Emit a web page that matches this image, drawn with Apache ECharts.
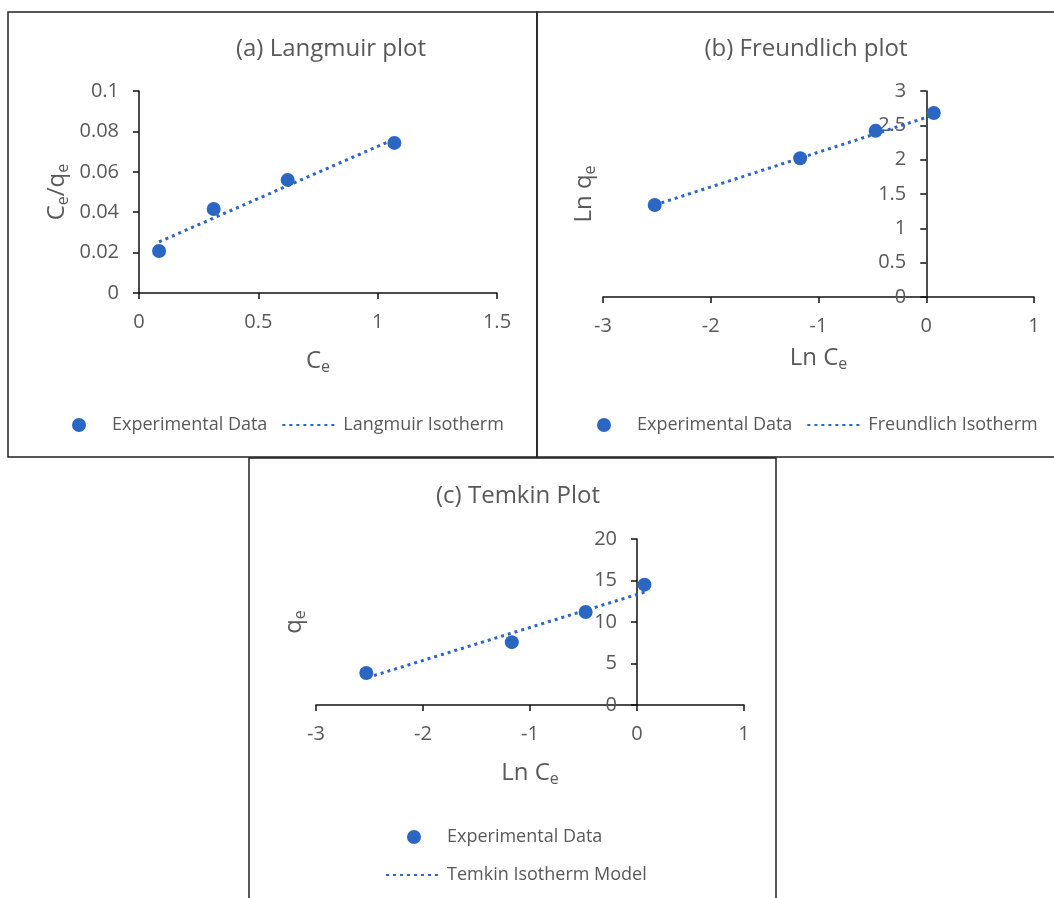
<!DOCTYPE html>
<html>
<head>
<meta charset="utf-8">
<script src="https://cdn.jsdelivr.net/npm/echarts@6/dist/echarts.min.js"></script>
<style>
  html, body { margin: 0; padding: 0; background: #fff; }
  #main { width: 1054px; height: 898px; }
</style>
</head>
<body>
<div id="main"></div>
<script>
// (a) Langmuir: Ce vs Ce/qe
var langmuirData = [[0.084, 0.0208], [0.313, 0.0416], [0.623, 0.056], [1.07, 0.0743]];
var langmuirFit = [[0.084, 0.0253], [1.07, 0.0762]];

// (b) Freundlich: Ln Ce vs Ln qe
var freundlichData = [[-2.52, 1.34], [-1.17, 2.02], [-0.47, 2.42], [0.07, 2.68]];
var freundlichFit = [[-2.52, 1.34], [0.07, 2.65]];

// (c) Temkin: Ln Ce vs qe
var temkinData = [[-2.53, 3.85], [-1.17, 7.57], [-0.48, 11.2], [0.07, 14.5]];
var temkinFit = [[-2.52, 3.3], [0.07, 13.6]];

var blue = '#2A66C2';
var grey = '#595959';
var font = 'Open Sans';

var grids = [
    { left: 139, top: 91, width: 358, height: 202 },
    { left: 603, top: 91, width: 431, height: 206 },
    { left: 316, top: 539, width: 428, height: 166 }
];

var chart = echarts.init(document.getElementById('main'));

// subscript "e" in axis names
var rich = {
    m: { fontSize: 24, color: grey, fontFamily: font, lineHeight: 28 },
    s: { fontSize: 16, color: grey, fontFamily: font, lineHeight: 16, verticalAlign: 'bottom' }
};

function xAx(idx, min, max, interval, name, gap) {
    return {
        type: 'value', gridIndex: idx, min: min, max: max, interval: interval,
        name: name, nameLocation: 'middle', nameGap: gap,
        nameTextStyle: { fontSize: 24, fontFamily: font, color: grey, rich: rich },
        splitLine: { show: false },
        axisLine: { onZero: false, lineStyle: { color: '#111', width: 1.5 } },
        axisTick: { show: true, length: 6, lineStyle: { color: '#111', width: 1.5 } },
        axisLabel: { color: grey, fontSize: 20, fontFamily: font, margin: 19 }
    };
}
// y axis crossing the x axis at x = 0 (xMin < 0): shift it inside the grid
function yAx(idx, min, max, interval, name, gap, xMin, xMax) {
    var off = 0;
    if (xMin < 0) off = -grids[idx].width * (0 - xMin) / (xMax - xMin);
    return {
        type: 'value', gridIndex: idx, min: min, max: max, interval: interval,
        name: name, nameLocation: 'middle', nameGap: gap, nameRotate: 90,
        nameTextStyle: { fontSize: 24, fontFamily: font, color: grey, rich: rich },
        offset: off,
        splitLine: { show: false },
        axisLine: { onZero: false, lineStyle: { color: '#111', width: 1.5 } },
        axisTick: { show: true, length: 6, lineStyle: { color: '#111', width: 1.5 } },
        axisLabel: { color: grey, fontSize: 20, fontFamily: font, margin: 20 }
    };
}

function legendOf(data, left, top, orient) {
    return {
        data: [data[0], { name: data[1], itemStyle: { opacity: 0 } }],
        left: left, top: top, width: 470, padding: 0,
        orient: orient || 'horizontal',
        itemWidth: 56, itemHeight: 14, itemGap: orient === 'vertical' ? 20 : 14,
        selectedMode: false,
        textStyle: { color: grey, fontSize: 18, fontFamily: font }
    };
}

var titleStyle = { color: grey, fontSize: 24, fontFamily: font, fontWeight: 'normal' };

var option = {
    animation: false,
    title: [
        { text: '(a) Langmuir plot', left: 326, top: 32, textAlign: 'center', textStyle: titleStyle },
        { text: '(b) Freundlich plot', left: 801, top: 32, textAlign: 'center', textStyle: titleStyle },
        { text: '(c) Temkin Plot', left: 513, top: 479, textAlign: 'center', textStyle: titleStyle }
    ],
    graphic: [
        { type: 'rect', shape: { x: 8, y: 12, width: 529, height: 445 }, style: { fill: 'none', stroke: '#222', lineWidth: 1.5 } },
        { type: 'rect', shape: { x: 537, y: 12, width: 530, height: 445 }, style: { fill: 'none', stroke: '#222', lineWidth: 1.5 } },
        { type: 'rect', shape: { x: 249, y: 458, width: 527, height: 460 }, style: { fill: 'none', stroke: '#222', lineWidth: 1.5 } }
    ],
    grid: grids,
    xAxis: [
        xAx(0, 0, 1.5, 0.5, '{m|C}{s|e}', 54),
        xAx(1, -3, 1, 1, '{m|Ln C}{s|e}', 47),
        xAx(2, -3, 1, 1, '{m|Ln C}{s|e}', 54)
    ],
    yAxis: [
        yAx(0, 0, 0.1, 0.02, '{m|C}{s|e}{m|/q}{s|e}', 68, 0, 1.5),
        yAx(1, 0, 3, 0.5, '{m|Ln q}{s|e}', 328, -3, 1),
        yAx(2, 0, 20, 5, '{m|q}{s|e}', 329, -3, 1)
    ],
    legend: [
        legendOf(['Experimental Data', 'Langmuir Isotherm'], 72, 416),
        legendOf(['Experimental Data', 'Freundlich Isotherm'], 597, 416),
        legendOf(['Experimental Data', 'Temkin Isotherm Model'], 385, 828, 'vertical')
    ],
    series: [
        { name: 'Experimental Data', type: 'scatter', xAxisIndex: 0, yAxisIndex: 0, data: langmuirData, symbolSize: 14, itemStyle: { color: blue, opacity: 1 }, z: 3 },
        { name: 'Langmuir Isotherm', type: 'line', xAxisIndex: 0, yAxisIndex: 0, data: langmuirFit, symbol: 'none', lineStyle: { color: blue, width: 3, type: [3, 4] }, itemStyle: { color: blue } },
        { name: 'Experimental Data', type: 'scatter', xAxisIndex: 1, yAxisIndex: 1, data: freundlichData, symbolSize: 14, itemStyle: { color: blue, opacity: 1 }, z: 3 },
        { name: 'Freundlich Isotherm', type: 'line', xAxisIndex: 1, yAxisIndex: 1, data: freundlichFit, symbol: 'none', lineStyle: { color: blue, width: 3, type: [3, 4] }, itemStyle: { color: blue } },
        { name: 'Experimental Data', type: 'scatter', xAxisIndex: 2, yAxisIndex: 2, data: temkinData, symbolSize: 14, itemStyle: { color: blue, opacity: 1 }, z: 3 },
        { name: 'Temkin Isotherm Model', type: 'line', xAxisIndex: 2, yAxisIndex: 2, data: temkinFit, symbol: 'none', lineStyle: { color: blue, width: 3, type: [3, 4] }, itemStyle: { color: blue } }
    ]
};

chart.setOption(option);
</script>
</body>
</html>
